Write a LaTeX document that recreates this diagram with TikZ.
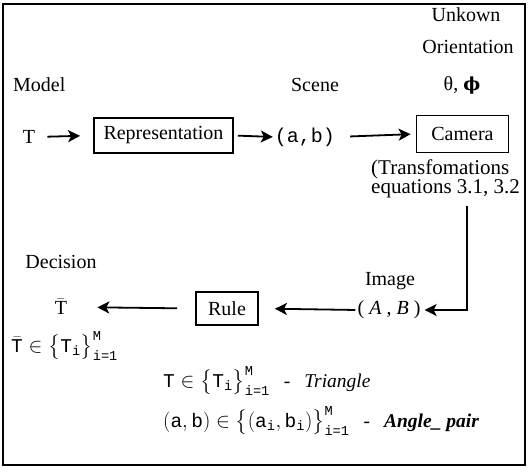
\documentclass[tikz,border=0pt]{standalone}
\usepackage{amsmath}
\usepackage{fontspec}
\setmainfont{Liberation Serif}
\setmonofont{Liberation Mono}
\newfontfamily\dvs{DejaVu Serif}
\usetikzlibrary{arrows.meta}
\newcommand\mt[1]{\text{\ttfamily #1}}
\begin{document}
\begin{tikzpicture}[x=1pt,y=-1pt,
  lbl/.style={font=\fontsize{20}{22}\selectfont, inner sep=0pt},
  sml/.style={font=\fontsize{19.5}{22}\selectfont, inner sep=0pt, anchor=west},
  boxn/.style={draw, line width=1.8pt, font=\fontsize{20}{22}\selectfont, inner sep=0pt, minimum height=35pt},
  arr/.style={line width=1.8pt, -{Stealth[length=12pt,width=12pt,inset=3pt]}}]
\useasboundingbox (0,0) rectangle (528,472);
\draw[line width=1.5pt] (3,4) rectangle (525,465);
% top labels
\node[lbl] (unk) at (466,15) {Unkown};
\node[lbl] (ori) at (468,47) {Orientation};
\node[lbl] (ang) at (462,85) {θ, {\dvs\bfseries\fontsize{18}{20}\selectfont ϕ}};
\node[lbl, anchor=west] (model) at (13,85) {Model};
\node[lbl] (scene) at (315,85) {Scene};
% row 1
\node[lbl] (T) at (29,137) {T};
\node[boxn, minimum width=139pt] (rep) at (163.5,135.5) {Representation};
\node[lbl, font=\ttfamily\fontsize{20}{22}\selectfont] (ab) at (305,137) {(a,b)};
\node[boxn, minimum width=92pt, minimum height=37pt] (cam) at (462.5,134) {Camera};
\node[lbl, align=left, anchor=north west, font=\fontsize{21}{19}\selectfont] (trans) at (371,160) {(Transfomations\\equations 3.1, 3.2};
\coordinate (cstart) at (467,206);
% row 2
\node[lbl] (dec) at (61,262) {Decision};
\node[lbl] (img) at (390,281) {Image};
\node[lbl] (Tbar) at (61,307) {$\bar{\text{T}}$};
\node[boxn, minimum width=62pt, minimum height=33pt] (rule) at (227,308.5) {Rule};
\node[lbl] (AB) at (389,310) {( \textit{A} , \textit{B} )};
% connectors
\draw[arr, shorten <=12pt, shorten >=13pt] (T.east) -- (rep.west);
\draw[arr, shorten <=4pt, shorten >=2pt] (rep.east) -- (ab.west);
\draw[arr, shorten <=15pt, shorten >=5pt] (ab.east) -- (cam.west);
\draw[arr, shorten >=4pt] (cstart) |- (AB.east);
\draw[arr, shorten <=2pt, shorten >=16pt] (AB.west) -- (rule.east);
\draw[arr, shorten <=18pt, shorten >=30pt] (rule.west) -- (Tbar.east);
% sets
\node[sml] (set1) at (11,346) {$\bar{\mt{T}}\in\bigl\{\mt{T}_{\mt{i}}\bigr\}^{\mt{M}}_{\mt{i=1}}$};
\node[sml] (set2) at (163,381) {$\mt{T}\in\bigl\{\mt{T}_{\mt{i}}\bigr\}^{\mt{M}}_{\mt{i=1}}$\hspace{14pt}-\hspace{14pt}\textit{Triangle}};
\node[sml] (set3) at (163,421) {$(\mt{a},\mt{b})\in\bigl\{(\mt{a}_{\mt{i}},\mt{b}_{\mt{i}})\bigr\}^{\mt{M}}_{\mt{i=1}}$\hspace{14pt}-\hspace{14pt}\textbf{\textit{Angle\_ pair}}};
\end{tikzpicture}
\end{document}
